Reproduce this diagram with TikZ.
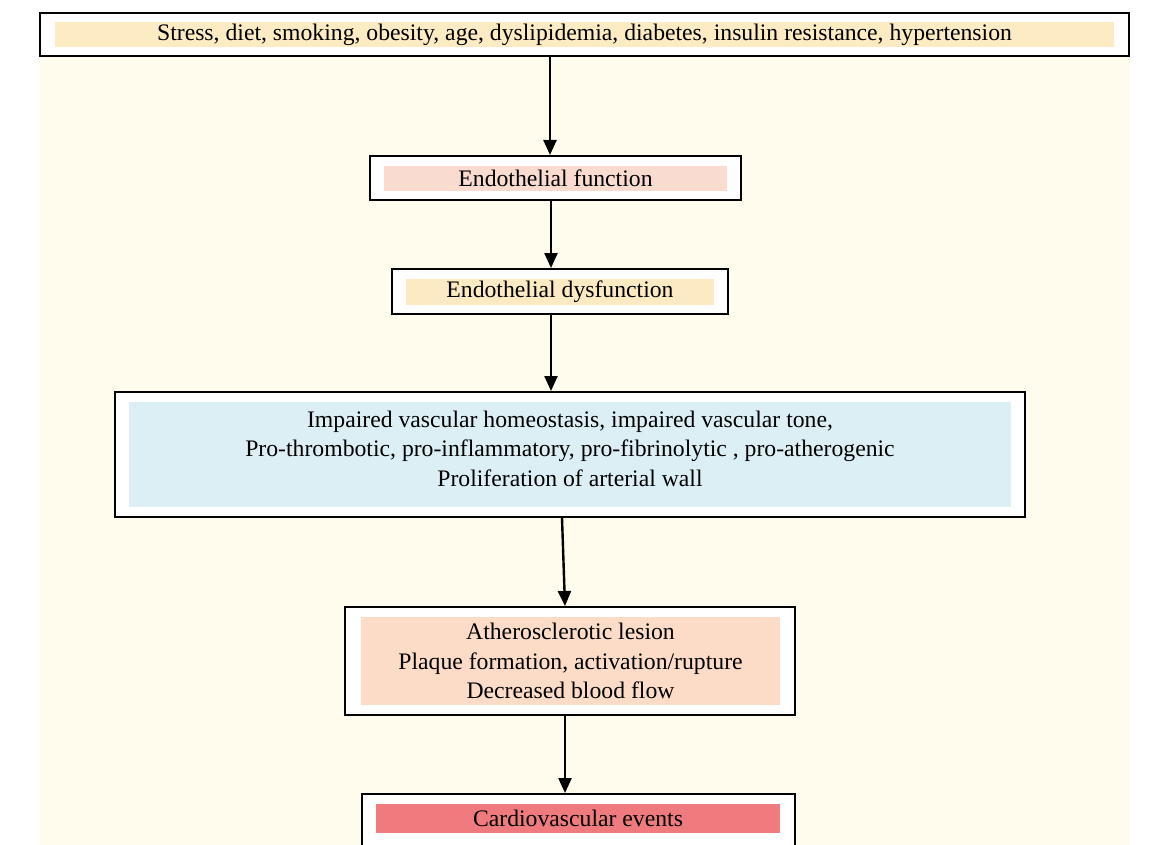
\documentclass[tikz,border=0pt]{standalone}
\usepackage{fontspec}
\setmainfont{Liberation Serif}
\usepackage{xcolor}
\usetikzlibrary{positioning,arrows.meta}
\definecolor{PanelC}{HTML}{FFFCEE}
\definecolor{RiskC}{HTML}{FDEBC3}
\definecolor{FuncC}{HTML}{FADBD0}
\definecolor{DysC}{HTML}{FCEBC2}
\definecolor{VascC}{HTML}{DCEFF5}
\definecolor{LesC}{HTML}{FCDCC6}
\definecolor{EvtC}{HTML}{EF7B7E}

\begin{document}
\begin{tikzpicture}[x=1pt,y=-1pt,font=\fontsize{23.7}{29.5}\selectfont,
  fr/.style={draw=black,line width=2pt,fill=white,inner sep=0pt},
  bd/.style={draw=none,inner sep=0pt,align=center},
  ar/.style={-{Triangle[length=15pt,width=13pt]},line width=2.4pt}]

\useasboundingbox (0,0) rectangle (1159,845);
\clip (0,0) rectangle (1159,845);
\fill[PanelC] (40,13) rectangle (1130,845);

% frames
\node[fr,minimum width=1089pt,minimum height=43pt]  (risk) at (584.5,34.5) {};
\node[fr,minimum width=371pt,minimum height=44pt]   (func) at (555.5,178)  {};
\node[fr,minimum width=336pt,minimum height=45pt]   (dys)  at (560,291.5)  {};
\node[fr,minimum width=910pt,minimum height=125pt]  (vasc) at (570,454.5)  {};
\node[fr,minimum width=450pt,minimum height=108pt]  (les)  at (570,661)    {};
\node[fr,minimum width=433pt,minimum height=60pt]   (evt)  at (578.5,824)  {};

% coloured bands with the texts
\node[bd,fill=RiskC,minimum width=1059pt,minimum height=25pt] (riskt) at (584.5,34.5)
  {Stress, diet, smoking, obesity, age, dyslipidemia, diabetes, insulin resistance, hypertension};
\node[bd,fill=FuncC,minimum width=343pt,minimum height=25pt] (funct) at (555.5,178.5)
  {Endothelial function};
\node[bd,fill=DysC,minimum width=308pt,minimum height=26pt] (dyst) at (560,292)
  {Endothelial dysfunction};
\node[bd,fill=VascC,minimum width=882pt,minimum height=105pt] (vascb) at (570,454.5) {};
\node[bd] (vasct) at (570,448.5)
  {Impaired vascular homeostasis, impaired vascular tone,\\
   Pro-thrombotic, pro-inflammatory, pro-fibrinolytic , pro-atherogenic\\
   Proliferation of arterial wall};
\node[bd,fill=LesC,minimum width=419pt,minimum height=88pt] (lest) at (570.5,661)
  {Atherosclerotic lesion\\ Plaque formation, activation/rupture\\ Decreased blood flow};
\node[bd,fill=EvtC,minimum width=404pt,minimum height=29pt] (evtt) at (578,818.5)
  {Cardiovascular events};

% connectors
\draw[ar] (risk.south -| 550,0) -- (func.north -| 550,0);
\draw[ar] (func.south -| 551,0) -- (dys.north -| 551,0);
\draw[ar] (dys.south -| 551,0)  -- (vasc.north -| 551,0);
\draw[ar] (vasc.south -| 562,0) -- (les.north -| 565,0);
\draw[ar] (les.south -| 565,0)  -- (evt.north -| 565,0);

\end{tikzpicture}
\end{document}
